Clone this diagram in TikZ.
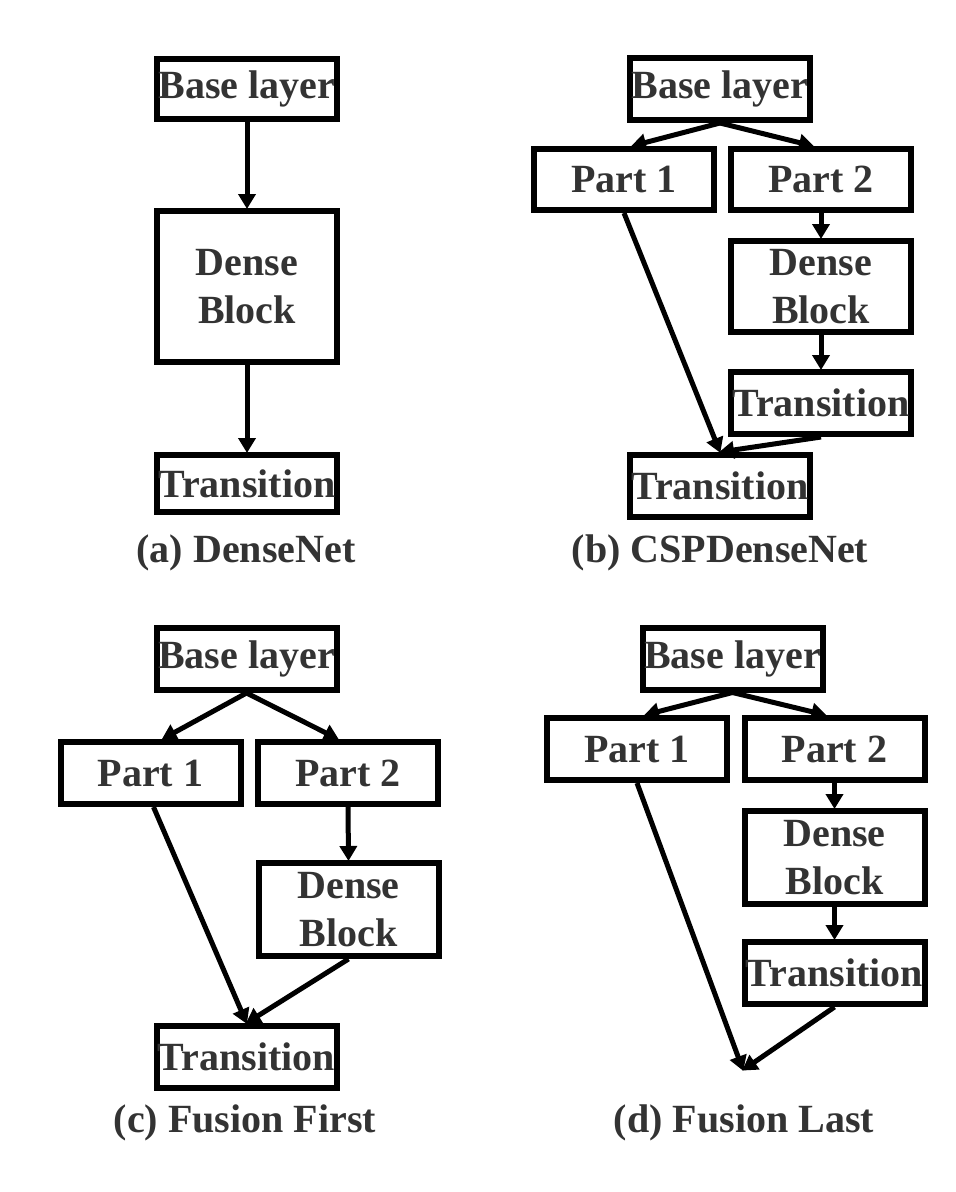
\documentclass[tikz,border=0pt]{standalone}
\usepackage{fontspec}
\setmainfont{Liberation Serif}
\usetikzlibrary{arrows.meta,calc}
\definecolor{txt}{RGB}{51,51,51}
\begin{document}
\begin{tikzpicture}[x=1pt,y=-1pt,
  box/.style={draw=black,line width=6pt,inner sep=0pt,minimum width=180pt,minimum height=62pt,
    text=txt,font=\fontsize{40}{48}\selectfont\bfseries,align=center},
  arr/.style={line width=5pt,-{Triangle[length=15pt,width=17pt]},shorten >=-1pt},
  captext/.style={text=txt,font=\fontsize{40}{48}\selectfont\bfseries,inner sep=0pt}]
\useasboundingbox (0,0) rectangle (956,1192);
\fill[white] (0,0) rectangle (956,1192);
% (a)
\node[box,minimum height=60pt] (abase) at (247,89) {Base layer};
\node[box,minimum height=151pt] (adense) at (247,286.5) {Dense\\Block};
\node[box,minimum height=57pt] (atrans) at (247,483.5) {Transition};
\node[captext] (acap) at (246,553) {(a) DenseNet};
\draw[arr] (abase.south) -- (adense.north);
\draw[arr] (adense.south) -- (atrans.north);
% (b)
\node[box] (bbase) at (720,89) {Base layer};
\node[box,minimum height=61pt] (bp1) at (624,179.5) {Part 1};
\node[box,minimum height=61pt] (bp2) at (821,179.5) {Part 2};
\node[box,minimum height=91pt] (bdense) at (821,286.5) {Dense\\Block};
\node[box] (btrans2) at (821,403) {Transition};
\node[box] (btrans) at (720,486) {Transition};
\node[captext] (bcap) at (720,553) {(b) CSPDenseNet};
\draw[arr] (bbase.south) -- ($(bp1.north)+(8,0)$);
\draw[arr] (bbase.south) -- ($(bp2.north)+(-8,0)$);
\draw[arr] (bp2.south) -- (bdense.north);
\draw[arr] (bdense.south) -- (btrans2.north);
\draw[arr] (bp1.south) -- (btrans.north);
\draw[arr] (btrans2.south) -- (btrans.north);
% (c)
\node[box] (cbase) at (246.5,659) {Base layer};
\node[box] (cp1) at (150.5,773) {Part 1};
\node[box] (cp2) at (348,773) {Part 2};
\node[box,minimum height=93pt] (cdense) at (348.5,909.5) {Dense\\Block};
\node[box] (ctrans) at (246.5,1057) {Transition};
\node[captext] (ccap) at (245,1123) {(c) Fusion First};
\draw[arr] (cbase.south) -- ($(cp1.north)+(12,0)$);
\draw[arr] (cbase.south) -- ($(cp2.north)+(-10,0)$);
\draw[arr] (cp2.south) -- (cdense.north);
\draw[arr] ($(cp1.south)+(3,0)$) -- (ctrans.north);
\draw[arr] (cdense.south) -- (ctrans.north);
% (d)
\node[box] (dbase) at (732.5,658.5) {Base layer};
\node[box] (dp1) at (637,749) {Part 1};
\node[box] (dp2) at (834.5,749) {Part 2};
\node[box,minimum height=93pt] (ddense) at (834.5,857.5) {Dense\\Block};
\node[box] (dtrans) at (834.5,973) {Transition};
\coordinate (dmerge) at (743,1070);
\node[captext] (dcap) at (744,1123) {(d) Fusion Last};
\draw[arr] (dbase.south) -- ($(dp1.north)+(8,0)$);
\draw[arr] (dbase.south) -- ($(dp2.north)+(-9,0)$);
\draw[arr] (dp2.south) -- (ddense.north);
\draw[arr] (ddense.south) -- (dtrans.north);
\draw[arr] (dp1.south) -- (dmerge);
\draw[arr] (dtrans.south) -- (dmerge);
\end{tikzpicture}
\end{document}
